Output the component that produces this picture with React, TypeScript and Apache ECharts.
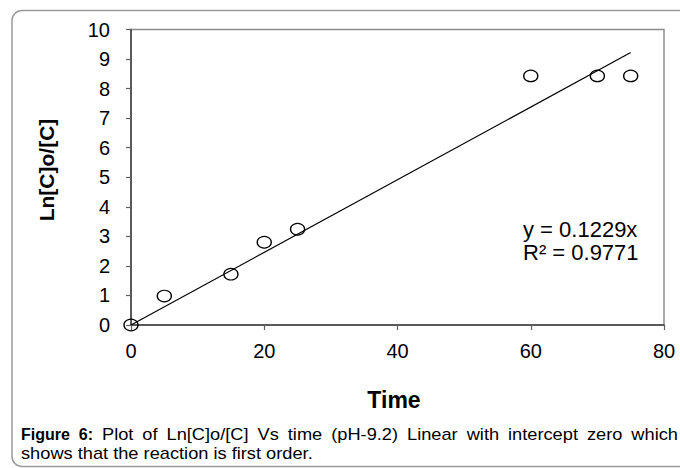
import React, { useEffect, useRef } from "react";
import * as echarts from "echarts";

const timeVals = [0, 5, 15, 20, 25, 60, 70, 75];
const lnVals = [0, 0.98, 1.72, 2.8, 3.24, 8.43, 8.43, 8.43];
const trendX = [0, 75];
const trendY = [0, 9.22];
const xTicks = { min: 0, max: 80, interval: 20 };
const yTicks = { min: 0, max: 10, interval: 1 };
const eqText = "y = 0.1229x";
const r2Text = "R² = 0.9771";
const xTitle = "Time";
const yTitle = "Ln[C]o/[C]";
const captionLine1: [string, boolean][] = [
  ["Figure", true], ["6:", true], ["Plot", false], ["of", false], ["Ln[C]o/[C]", false],
  ["Vs", false], ["time", false], ["(pH-9.2)", false], ["Linear", false], ["with", false],
  ["intercept", false], ["zero", false], ["which", false],
];
const captionLine2 = "shows that the reaction is first order.";

const FONT = '"Liberation Sans", Arial, Helvetica, sans-serif';

export default function App() {
  const ref = useRef<HTMLDivElement>(null);
  useEffect(() => {
    if (!ref.current) return;
    const chart = echarts.init(ref.current, null, { renderer: "svg" });
    const canvas = document.createElement("canvas");
    const ctx = canvas.getContext("2d")!;
    const capSize = 16;
    const S = 1.14;
    const measure = (t: string, bold: boolean) => {
      ctx.font = `${bold ? "bold " : ""}${capSize}px "Liberation Sans", Arial`;
      return ctx.measureText(t).width * (bold ? 1 : S);
    };
    const x0 = 21, x1 = 678;
    const widths = captionLine1.map(([t, b]) => measure(t, b));
    const total = widths.reduce((a, b) => a + b, 0);
    const gap = (x1 - x0 - total) / (captionLine1.length - 1);
    let cur = x0;
    const capEls: any[] = captionLine1.map(([t, b], i) => {
      const el = {
        type: "text",
        x: cur,
        y: 434,
        scaleX: b ? 1 : S,
        silent: true,
        style: {
          text: t,
          fontFamily: FONT,
          fontSize: capSize,
          fontWeight: b ? "bold" : "normal",
          fill: "#000",
          align: "left",
          verticalAlign: "middle",
        },
      };
      cur += widths[i] + gap;
      return el;
    });
    capEls.push({
      type: "text",
      x: x0,
      y: 453,
      scaleX: S,
      silent: true,
      style: {
        text: captionLine2,
        fontFamily: FONT,
        fontSize: capSize,
        fill: "#000",
        align: "left",
        verticalAlign: "middle",
      },
    });

    chart.setOption({
      animation: false,
      backgroundColor: "#fff",
      grid: {
        left: 131,
        top: 29.5,
        right: 16,
        bottom: 143,
        show: true,
        borderColor: "#8c8c8c",
        borderWidth: 1.5,
        backgroundColor: "transparent",
      },
      xAxis: {
        type: "value",
        min: xTicks.min,
        max: xTicks.max,
        interval: xTicks.interval,
        axisLine: { show: true, lineStyle: { color: "#404040", width: 1.5 } },
        axisTick: { show: true, inside: false, length: 5, lineStyle: { color: "#606060", width: 1.2 } },
        splitLine: { show: false },
        axisLabel: { fontSize: 20, color: "#000", margin: 16, fontFamily: FONT },
      },
      yAxis: {
        type: "value",
        min: yTicks.min,
        max: yTicks.max,
        interval: yTicks.interval,
        axisLine: { show: true, lineStyle: { color: "#404040", width: 1.5 } },
        axisTick: { show: true, inside: false, length: 5, lineStyle: { color: "#606060", width: 1.2 } },
        splitLine: { show: false },
        axisLabel: { fontSize: 20, color: "#000", margin: 21, fontFamily: FONT },
      },
      series: [
        {
          type: "line",
          data: trendX.map((x, i) => [x, trendY[i]]),
          showSymbol: false,
          symbol: "none",
          lineStyle: { color: "#000", width: 1.2 },
          z: 2,
        },
        {
          type: "scatter",
          data: timeVals.map((x, i) => [x, lnVals[i]]),
          symbol: "circle",
          symbolSize: [14, 11.5],
          itemStyle: { color: "rgba(0,0,0,0)", borderColor: "#000", borderWidth: 1.3, opacity: 1 },
          clip: false,
          z: 3,
        },
      ],
      graphic: [
        {
          type: "rect",
          silent: true,
          shape: { x: 12, y: 10.5, width: 700, height: 456, r: 10 },
          style: { fill: "none", stroke: "#9a9a9a", lineWidth: 1.5 },
          z: -1,
        },
        {
          type: "text",
          x: 394,
          y: 400,
          silent: true,
          style: {
            text: xTitle,
            fontFamily: FONT,
            fontSize: 23,
            fontWeight: "bold",
            fill: "#000",
            align: "center",
            verticalAlign: "middle",
          },
        },
        {
          type: "text",
          x: 46,
          y: 170,
          rotation: Math.PI / 2,
          silent: true,
          style: {
            text: yTitle,
            fontFamily: FONT,
            fontSize: 21,
            fontWeight: "bold",
            fill: "#000",
            align: "center",
            verticalAlign: "middle",
          },
        },
        {
          type: "text",
          x: 523,
          y: 229,
          silent: true,
          style: { text: eqText, fontFamily: FONT, fontSize: 22, fill: "#000", align: "left", verticalAlign: "middle" },
        },
        {
          type: "text",
          x: 523,
          y: 252,
          silent: true,
          style: { text: r2Text, fontFamily: FONT, fontSize: 22, fill: "#000", align: "left", verticalAlign: "middle" },
        },
        ...capEls,
      ],
    });
    return () => chart.dispose();
  }, []);
  return (
    <div
      ref={ref}
      style={{ position: "absolute", left: 0, top: 0, width: 680, height: 468 }}
    />
  );
}
